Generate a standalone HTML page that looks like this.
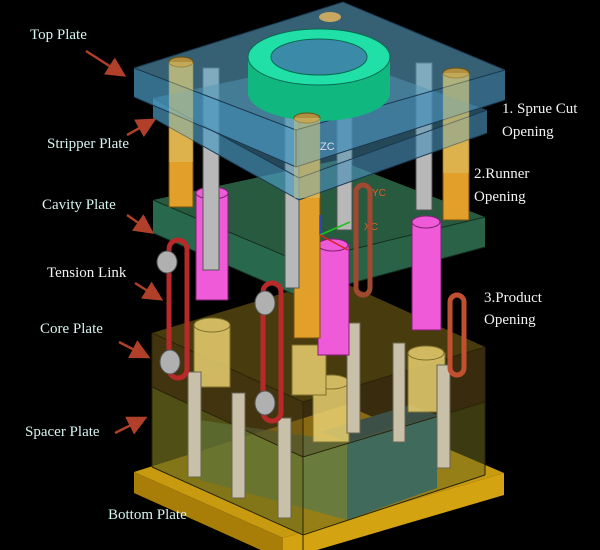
<!DOCTYPE html>
<html><head><style>
html,body{margin:0;padding:0;background:#000;width:600px;height:550px;overflow:hidden;}
svg{display:block}
.l{font-family:"Liberation Serif",serif;font-size:15px;fill:#d8f4f0}
.r{font-family:"Liberation Serif",serif;font-size:15px;fill:#f2f2f2}
</style></head><body>
<svg width="600" height="550" viewBox="0 0 600 550" xmlns="http://www.w3.org/2000/svg">
<defs>
<marker id="a" markerWidth="8" markerHeight="8" refX="6" refY="4" orient="auto"><path d="M0,0 L8,4 L0,8 Z" fill="#b0402a"/></marker>
</defs>
<rect width="600" height="550" fill="#000"/>

<!-- bottom plate -->
<polygon points="134,472 345,405 504,473 283,538" fill="#c89a10"/>
<polygon points="134,472 283,538 283,560 134,493" fill="#a87e08"/>
<polygon points="283,538 504,473 504,495 283,560" fill="#d4a312"/>

<!-- core/spacer block back -->
<polygon points="152,333 333,278 485,347 303,402" fill="#5a4a12" opacity="0.8"/>
<!-- blue block -->
<polygon points="347,442 437,415 437,488 347,520" fill="#0a6ea8"/>
<polygon points="347,442 437,415 410,405 320,432" fill="#0a5a90"/>
<polygon points="200,420 347,442 347,520 200,480" fill="#3a8f8a" opacity="0.7"/>
<!-- faces -->
<polygon points="152,387 303,457 303,535 152,467" fill="#6b6a1c" opacity="0.75"/>
<polygon points="303,457 485,402 485,475 303,535" fill="#6e6a1e" opacity="0.55"/>
<polygon points="152,333 303,402 303,457 152,387" fill="#5a4616" opacity="0.75"/>
<polygon points="303,402 485,347 485,402 303,457" fill="#5f4a18" opacity="0.6"/>
<g stroke="#2a2408" fill="none" stroke-width="1">
<polyline points="152,333 303,402 485,347"/><polyline points="152,387 303,457 485,402"/>
<polyline points="152,467 303,535 485,475"/><line x1="303" y1="402" x2="303" y2="550"/><line x1="152" y1="333" x2="152" y2="467"/><line x1="485" y1="347" x2="485" y2="475"/>
</g>
<!-- yellow cylinders -->
<g fill="#e8d070" opacity="0.85" stroke="#8a7a30">
<rect x="194" y="325" width="36" height="62"/><ellipse cx="212" cy="325" rx="18" ry="7"/>
<rect x="313" y="382" width="36" height="60"/><ellipse cx="331" cy="382" rx="18" ry="7"/>
<rect x="408" y="353" width="37" height="59"/><ellipse cx="426" cy="353" rx="18" ry="7"/>
<rect x="292" y="345" width="34" height="50"/>
</g>
<!-- gray rods -->
<g fill="#c8c0a8" stroke="#6a6450">
<rect x="188" y="372" width="13" height="105"/><rect x="232" y="393" width="13" height="105"/>
<rect x="278" y="418" width="13" height="100"/><rect x="347" y="323" width="13" height="110"/>
<rect x="393" y="343" width="12" height="99"/><rect x="437" y="365" width="13" height="103"/>
</g>

<!-- cavity plate -->
<polygon points="153,200 338,160 485,217 300,262" fill="#2f6a4a" opacity="0.85"/>
<polygon points="153,200 300,262 300,297 153,233" fill="#2f7a5a" opacity="0.85"/>
<polygon points="300,262 485,217 485,247 300,297" fill="#357a5a" opacity="0.8"/>
<g stroke="#143020" fill="none"><polyline points="153,200 300,262 485,217"/><polyline points="153,233 300,297 485,247"/></g>

<!-- pink cylinders -->
<g fill="#ee5ad8" stroke="#802070">
<rect x="196" y="193" width="32" height="107"/><ellipse cx="212" cy="193" rx="16" ry="6"/>
<rect x="318" y="245" width="31" height="110"/><ellipse cx="333" cy="245" rx="15" ry="6"/>
<rect x="412" y="222" width="29" height="108"/><ellipse cx="426" cy="222" rx="14" ry="6"/>
</g>

<!-- guide pillars -->
<g fill="#e2a02a" stroke="#7a5010">
<rect x="169" y="62" width="24" height="145"/>
<rect x="443" y="73" width="26" height="147"/>
<rect x="294" y="118" width="26" height="220"/>
</g>
<g fill="#b8b8b8" stroke="#555">
<rect x="203" y="68" width="16" height="202"/><rect x="416" y="63" width="16" height="147"/>
<rect x="285" y="103" width="14" height="185"/><rect x="337" y="60" width="15" height="170"/>
</g>

<!-- stripper plate -->
<polygon points="153,98 341,58 487,110 299,178" fill="#4a90b0" opacity="0.5"/>
<polygon points="153,98 299,178 299,200 153,118" fill="#4a98c0" opacity="0.7"/>
<polygon points="299,178 487,110 487,133 299,200" fill="#4a90b8" opacity="0.65"/>
<g stroke="#1a3850" fill="none"><polyline points="153,98 299,178 487,110"/><polyline points="153,118 299,200 487,133"/></g>

<!-- top plate -->
<polygon points="134,68 343,2 505,70 296,130" fill="#5aa0c0" opacity="0.6"/>
<polygon points="134,68 296,130 296,167 134,97" fill="#4a98c0" opacity="0.72"/>
<polygon points="296,130 505,70 505,100 296,167" fill="#4a90b8" opacity="0.7"/>
<g stroke="#1a3850" fill="none"><polyline points="134,68 296,130 505,70"/><polyline points="134,97 296,167 505,100"/><polyline points="134,68 343,2 505,70"/><line x1="296" y1="130" x2="296" y2="167"/></g>
<ellipse cx="330" cy="17" rx="11" ry="5" fill="#c8a860"/>
<!-- locating ring -->
<rect x="248" y="57" width="142" height="36" fill="#10b880"/>
<ellipse cx="319" cy="93" rx="71" ry="28" fill="#10b880"/>
<ellipse cx="319" cy="57" rx="71" ry="28" fill="#20e0a8" stroke="#0a6a50"/>
<ellipse cx="319" cy="57" rx="48" ry="18" fill="#3a8aa8" stroke="#0a6a50"/>
<!-- pillar tops -->
<g fill="#b09040" stroke="#6a5010"><ellipse cx="181" cy="62" rx="12" ry="5"/><ellipse cx="456" cy="73" rx="13" ry="5"/><ellipse cx="307" cy="118" rx="13" ry="5"/></g>
<rect x="169" y="62" width="24" height="100" fill="#d8c878" opacity="0.45"/>
<rect x="443" y="73" width="26" height="100" fill="#d8c878" opacity="0.45"/>
<rect x="294" y="118" width="26" height="80" fill="#d8c878" opacity="0.45"/>

<!-- axes -->
<line x1="320" y1="235" x2="320" y2="215" stroke="#2040ff" stroke-width="1.5"/>
<line x1="320" y1="235" x2="350" y2="222" stroke="#20c020" stroke-width="1.5"/>
<line x1="320" y1="235" x2="348" y2="250" stroke="#e02020" stroke-width="1.5"/>
<text x="320" y="150" font-family="Liberation Sans" font-size="11" fill="#dde">ZC</text>
<text x="372" y="196" font-family="Liberation Sans" font-size="10" fill="#e06020">YC</text>
<text x="364" y="230" font-family="Liberation Sans" font-size="10" fill="#e06020">XC</text>

<!-- tension links -->
<g fill="none" stroke="#b82a2a" stroke-width="5">
<rect x="169" y="240" width="18" height="138" rx="9"/>
<rect x="263" y="283" width="18" height="138" rx="9"/>
<rect x="450" y="295" width="14" height="80" rx="7" stroke="#c05030"/>
<rect x="356" y="185" width="14" height="110" rx="7" stroke="#a04830"/>
</g>
<g fill="#b0b0b0" stroke="#555">
<ellipse cx="167" cy="262" rx="10" ry="11"/><ellipse cx="170" cy="362" rx="10" ry="12"/>
<ellipse cx="265" cy="303" rx="10" ry="12"/><ellipse cx="265" cy="403" rx="10" ry="12"/>
</g>

<!-- labels -->
<text class="l" x="30" y="39">Top Plate</text>
<text class="l" x="47" y="148">Stripper Plate</text>
<text class="l" x="42" y="209">Cavity Plate</text>
<text class="r" x="47" y="277">Tension Link</text>
<text class="l" x="40" y="333">Core Plate</text>
<text class="l" x="25" y="436">Spacer Plate</text>
<text class="l" x="108" y="519">Bottom Plate</text>
<text class="r" x="502" y="113">1. Sprue Cut</text>
<text class="r" x="502" y="136">Opening</text>
<text class="r" x="474" y="178">2.Runner</text>
<text class="r" x="474" y="201">Opening</text>
<text class="r" x="484" y="302">3.Product</text>
<text class="r" x="484" y="324">Opening</text>

<g stroke="#b0402a" stroke-width="2.5" marker-end="url(#a)">
<line x1="86" y1="51" x2="122" y2="74"/>
<line x1="127" y1="135" x2="152" y2="121"/>
<line x1="127" y1="215" x2="150" y2="231"/>
<line x1="135" y1="283" x2="159" y2="298"/>
<line x1="119" y1="342" x2="146" y2="356"/>
<line x1="115" y1="433" x2="143" y2="419"/>
</g>
</svg>
</body></html>
